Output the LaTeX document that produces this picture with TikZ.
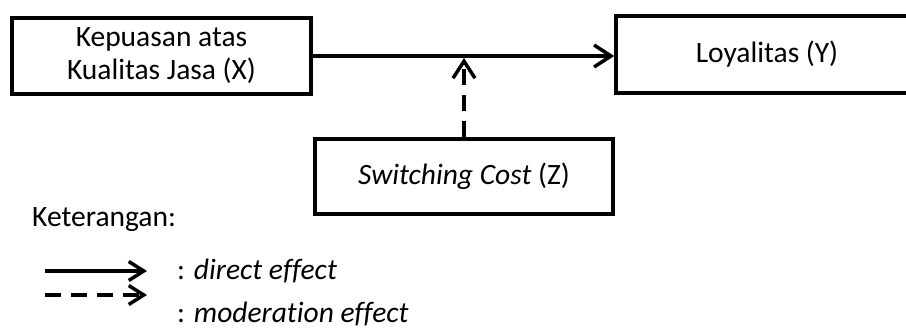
\documentclass[tikz,border=0pt]{standalone}
\usepackage{fontspec}
\setmainfont[Ligatures=NoCommon]{Carlito}
\usetikzlibrary{arrows.meta,calc}
\begin{document}
\begin{tikzpicture}[x=1pt,y=-1pt,
  lw/.style={line width=3.5pt},
  box/.style={draw,lw,inner sep=0pt,align=center},
  lbl/.style={inner sep=0pt,anchor=base west},
  barb/.style={-{Straight Barb[length=17pt,width=22pt,line width=3.5pt]}},
  keybarb/.style={-{Straight Barb[length=15pt,width=19pt,line width=3.5pt]}},
  dsh/.style={dash pattern=on 16pt off 10pt},
  every node/.style={font=\fontsize{29.5}{33}\selectfont}]
\clip (0,0) rectangle (906,335);
\fill[white] (0,0) rectangle (906,335);
% variable boxes
\node[box,minimum width=299pt,minimum height=76pt] (X) at (161.5,56) {Kepuasan atas\\Kualitas Jasa (X)};
\node[box,minimum width=302pt,minimum height=77pt] (Y) at (767,54.5) {Loyalitas (Y)};
\node[box,minimum width=298pt,minimum height=75pt] (Z) at (464,176.5) {\textit{Switching Cost} (Z)};
% direct effect X -> Y
\draw[lw,barb] (X.east) -- (X.east -| Y.west);
% moderation of Z on the X -> Y path
\coordinate (m) at ($(Z.north |- X.east)+(0,2)$);
\draw[lw,barb,dsh] (Z.north) -- (m);
% legend
\node[lbl] (ket) at (32,226) {Keterangan:};
\coordinate (a1) at (45,271);
\coordinate (a2) at (147,271);
\coordinate (b1) at (45,295);
\coordinate (b2) at (147,295);
\draw[lw,keybarb] (a1) -- (a2);
\draw[lw,keybarb,dsh] (b1) -- (b2);
\node[lbl] (d1) at (177,279) {: \textit{direct effect}};
\node[lbl] (d2) at (177,322) {: \textit{moderation effect}};
\end{tikzpicture}
\end{document}
